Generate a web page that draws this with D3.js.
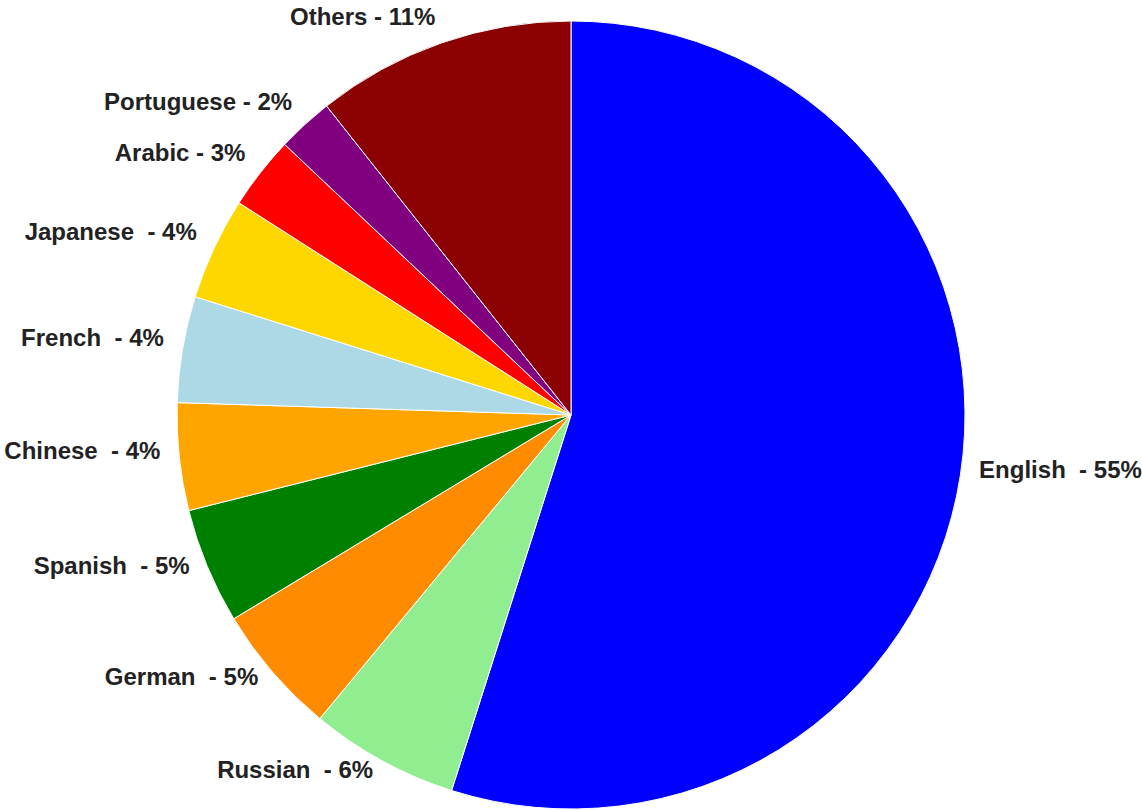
<!DOCTYPE html>
<html>
<head>
<meta charset="utf-8">
<script src="https://cdn.jsdelivr.net/npm/d3@7"></script>
<style>
  html, body { margin: 0; padding: 0; background: #fff; overflow: hidden; }
  svg { display: block; }
</style>
</head>
<body>
<svg id="chart" width="1142" height="810"></svg>
<script>
// Data (clockwise from 12 o'clock)
const languages = ["English", "Russian", "German", "Spanish", "Chinese", "French", "Japanese", "Arabic", "Portuguese", "Others"];
const shares    = [54.9, 6.1, 5.35, 4.75, 4.4, 4.35, 4.2, 3.0, 2.3, 10.65];
const separators = ["  - ", "  - ", "  - ", "  - ", "  - ", "  - ", "  - ", " - ", " - ", " - "];
const colors = ["#0000ff", "#90ee90", "#ff8c00", "#008000", "#ffa500", "#add8e6", "#ffd700", "#ff0000", "#800080", "#8b0000"];

const data = languages.map((name, i) => ({ name, value: shares[i], sep: separators[i], color: colors[i] }));

const width = 1142, height = 810;
const cx = 571, cy = 415, radius = 394, labelRadius = 413;

const svg = d3.select("#chart");
const g = svg.append("g").attr("transform", `translate(${cx},${cy})`);

const pie = d3.pie().sort(null).value(d => d.value);
const arc = d3.arc().innerRadius(0).outerRadius(radius);
const labelArc = d3.arc().innerRadius(labelRadius).outerRadius(labelRadius);

const arcs = pie(data);

g.selectAll("path.slice")
  .data(arcs)
  .enter().append("path")
  .attr("class", "slice")
  .attr("d", arc)
  .attr("fill", d => d.data.color)
  .attr("stroke", "#ffffff")
  .attr("stroke-width", 1);

g.selectAll("text.label")
  .data(arcs)
  .enter().append("text")
  .attr("class", "label")
  .attr("transform", d => {
    const a = (d.startAngle + d.endAngle) / 2;
    return `translate(${Math.sin(a) * labelRadius},${-Math.cos(a) * labelRadius})`;
  })
  .attr("text-anchor", d => ((d.startAngle + d.endAngle) / 2) < Math.PI ? "start" : "end")
  .style("font-family", "'Liberation Sans', Arial, Helvetica, sans-serif")
  .style("font-weight", "bold")
  .style("font-size", "24px")
  .style("white-space", "pre")
  .attr("fill", "#222222")
  .attr("xml:space", "preserve")
  .text(d => d.data.name + d.data.sep + Math.round(d.data.value) + "%");
</script>
</body>
</html>
